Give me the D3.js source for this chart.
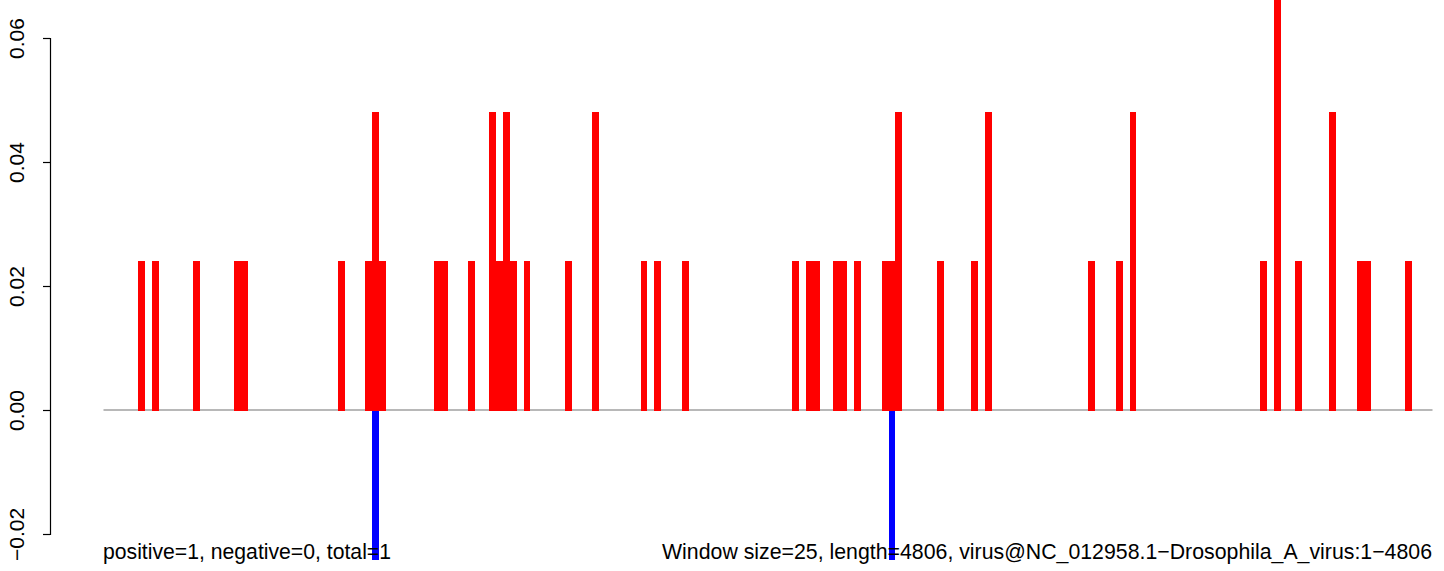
<!DOCTYPE html>
<html>
<head>
<meta charset="utf-8">
<script src="https://cdn.jsdelivr.net/npm/d3@7"></script>
<style>
  html, body { margin: 0; padding: 0; background: #fff; }
  svg { display: block; }
  text { font-family: "Liberation Sans", Arial, Helvetica, sans-serif; }
</style>
</head>
<body>
<svg id="chart" width="1444" height="571"></svg>
<script>
// ---- data (window index of 25-bp windows, value) ----
const windowSize = 25;
const genomeLength = 4806;
const windowCount = 193;
const posWindows = [5, 7, 13, 19, 20, 34, 38, 39, 40, 48, 49, 53, 56, 57, 58, 59, 61, 67, 71, 78, 80, 84,
  100, 102, 103, 106, 107, 109, 113, 114, 115, 121, 126, 128, 143, 147, 149, 168, 170, 173, 178, 182, 183, 189];
const posValues = [0.024, 0.024, 0.024, 0.024, 0.024, 0.024, 0.024, 0.048, 0.024, 0.024, 0.024, 0.024, 0.048, 0.024, 0.048, 0.024, 0.024, 0.024, 0.048, 0.024, 0.024, 0.024,
  0.024, 0.024, 0.024, 0.024, 0.024, 0.024, 0.024, 0.024, 0.048, 0.024, 0.024, 0.048, 0.024, 0.024, 0.048, 0.024, 0.072, 0.024, 0.048, 0.024, 0.024, 0.024];
const negWindows = [39, 114];
const negValues = [-0.024, -0.024];
const yTicks = [-0.02, 0, 0.02, 0.04, 0.06];
const leftNote = "positive=1, negative=0, total=1";
const rightNote = "Window size=25, length=4806, virus@NC_012958.1\u2212Drosophila_A_virus:1\u22124806";

const svg = d3.select("#chart");
const x = d3.scaleLinear().domain([0, windowCount]).range([103.5, 1432.5]);
const y = d3.scaleLinear().domain([-0.02, 0.06]).range([534, 38]);
const xr = w => Math.round(x(w));

// zero line
svg.append("line")
  .attr("x1", x(0)).attr("x2", x(windowCount))
  .attr("y1", y(0)).attr("y2", y(0))
  .attr("stroke", "#a0a0a0").attr("stroke-width", 1.5);

const pos = posWindows.map((w, i) => ({ w, v: posValues[i] }));
const neg = negWindows.map((w, i) => ({ w, v: negValues[i] }));

svg.append("g").attr("shape-rendering", "crispEdges")
  .selectAll("rect").data(pos).join("rect")
  .attr("x", d => xr(d.w))
  .attr("width", d => xr(d.w + 1) - xr(d.w))
  .attr("y", d => Math.round(y(d.v)))
  .attr("height", d => Math.round(y(0)) - Math.round(y(d.v)) + 1)
  .attr("fill", "#ff0000");

svg.append("g").attr("shape-rendering", "crispEdges")
  .selectAll("rect").data(neg).join("rect")
  .attr("x", d => xr(d.w))
  .attr("width", d => xr(d.w + 1) - xr(d.w))
  .attr("y", Math.round(y(0)) + 1)
  .attr("height", d => Math.round(y(d.v)) - Math.round(y(0)))
  .attr("fill", "#0000ff");

// y axis
const yAxis = d3.axisLeft(y).tickValues(yTicks).tickFormat(d3.format(".2f")).tickSizeOuter(0).tickSize(7);
const ag = svg.append("g").attr("transform", "translate(50,0)").call(yAxis);
ag.select(".domain").attr("stroke", "#000").attr("stroke-width", 1.2);
ag.selectAll(".tick line").attr("stroke", "#000").attr("stroke-width", 1.2);
ag.selectAll(".tick text")
  .attr("font-size", 21)
  .attr("font-family", "Liberation Sans, Arial, sans-serif")
  .attr("fill", "#000")
  .attr("text-anchor", "middle")
  .attr("x", 0).attr("dy", 0)
  .attr("transform", "translate(-26,0) rotate(-90)");

// bottom notes
svg.append("text").attr("x", 103).attr("y", 559)
  .attr("font-size", 21.2).attr("fill", "#000").text(leftNote);
svg.append("text").attr("x", 1432).attr("y", 559)
  .attr("font-size", 21.2).attr("fill", "#000").attr("text-anchor", "end")
  .attr("textLength", 770).attr("lengthAdjust", "spacingAndGlyphs").text(rightNote);
</script>
</body>
</html>
